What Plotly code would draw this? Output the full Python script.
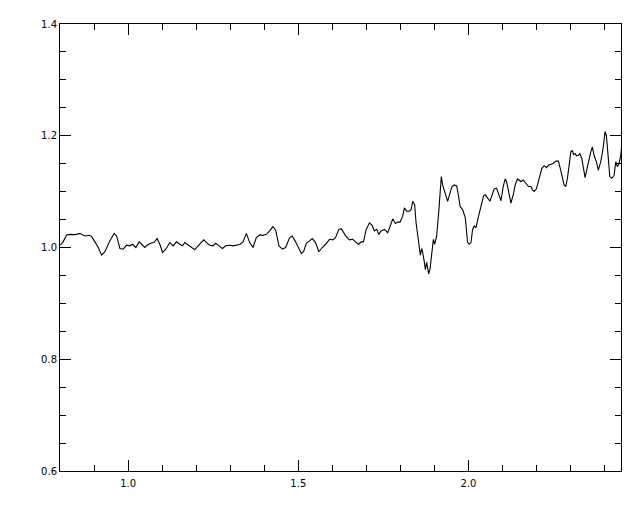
import plotly.graph_objects as go

wavelength = [
    0.8000, 0.8079, 0.8196, 0.8293, 0.8440, 0.8587, 0.8666, 0.8762, 0.8859, 0.8930,
    0.9026, 0.9123, 0.9223, 0.9320, 0.9466, 0.9592, 0.9663, 0.9760, 0.9856, 0.9956,
    1.0053, 1.0132, 1.0229, 1.0325, 1.0396, 1.0493, 1.0560, 1.0660, 1.0757, 1.0853,
    1.0933, 1.1012, 1.1109, 1.1226, 1.1323, 1.1422, 1.1519, 1.1598, 1.1666, 1.1762,
    1.1862, 1.1959, 1.2056, 1.2155, 1.2223,
    1.2302, 1.2399, 1.2496, 1.2575, 1.2672, 1.2771, 1.2868, 1.2985, 1.3082, 1.3182,
    1.3279, 1.3375, 1.3475, 1.3572, 1.3669, 1.3768, 1.3865, 1.3962, 1.4062, 1.4158,
    1.4255, 1.4334, 1.4431, 1.4531, 1.4628, 1.4745, 1.4824, 1.4921, 1.5018, 1.5088,
    1.5155, 1.5235, 1.5331, 1.5410, 1.5507, 1.5604, 1.5704, 1.5801, 1.5918, 1.6015,
    1.6094, 1.6191, 1.6261, 1.6337,
    1.6408, 1.6504, 1.6601, 1.6701, 1.6777, 1.6848, 1.6915, 1.6994, 1.7091, 1.7170,
    1.7238, 1.7305, 1.7364, 1.7434, 1.7531, 1.7628, 1.7727, 1.7774, 1.7853, 1.7921,
    1.7991, 1.8067, 1.8117, 1.8185, 1.8264, 1.8314, 1.8360, 1.8419, 1.8460, 1.8507,
    1.8557, 1.8586, 1.8624, 1.8654, 1.8704, 1.8733, 1.8771, 1.8801, 1.8830, 1.8871,
    1.8930, 1.8968, 1.9006, 1.9065, 1.9123, 1.9164, 1.9202, 1.9240, 1.9320, 1.9387,
    1.9457, 1.9516, 1.9584, 1.9651, 1.9710, 1.9751, 1.9827, 1.9906, 1.9974, 2.0023,
    2.0073, 2.0120, 2.0170, 2.0220, 2.0296, 2.0366, 2.0443,
    2.0493, 2.0560, 2.0630, 2.0689, 2.0756, 2.0824, 2.0883, 2.0953, 2.1020, 2.1079,
    2.1117, 2.1176, 2.1246, 2.1314, 2.1372, 2.1440, 2.1490, 2.1539, 2.1607, 2.1686,
    2.1762, 2.1833, 2.1880, 2.1930, 2.1997, 2.2076, 2.2155, 2.2223, 2.2290, 2.2349,
    2.2419, 2.2487, 2.2566, 2.2642, 2.2683, 2.2742, 2.2809, 2.2859, 2.2906, 2.2956,
    2.3006, 2.3053, 2.3082, 2.3132, 2.3170, 2.3229, 2.3270, 2.3328, 2.3366, 2.3425,
    2.3463, 2.3522, 2.3592, 2.3639, 2.3689, 2.3756, 2.3815, 2.3885, 2.3953, 2.4012,
    2.4050, 2.4108, 2.4150, 2.4208, 2.4276, 2.4326, 2.4373, 2.4422, 2.4472, 2.4501,
]

flux = [
    1.0041, 1.0088, 1.0225, 1.0235, 1.0230, 1.0253, 1.0225, 1.0207, 1.0218, 1.0195,
    1.0101, 1.0000, 0.9864, 0.9924, 1.0119, 1.0253, 1.0207, 0.9982, 0.9970, 1.0041,
    1.0030, 1.0058, 1.0000, 1.0101, 1.0058, 1.0000, 1.0041, 1.0076, 1.0088, 1.0159,
    1.0058, 0.9912, 0.9970, 1.0088, 1.0030, 1.0101, 1.0058, 1.0030, 1.0088, 1.0041,
    1.0000, 0.9959, 1.0030, 1.0101, 1.0136,
    1.0088, 1.0041, 1.0030, 1.0076, 1.0030, 0.9982, 1.0030, 1.0041, 1.0030, 1.0041,
    1.0053, 1.0101, 1.0253, 1.0088, 1.0000, 1.0177, 1.0225, 1.0218, 1.0235, 1.0296,
    1.0372, 1.0313, 1.0030, 0.9970, 1.0000, 1.0177, 1.0207, 1.0101, 0.9982, 0.9894,
    0.9924, 1.0076, 1.0119, 1.0159, 1.0088, 0.9924, 1.0000, 1.0058, 1.0147, 1.0136,
    1.0177, 1.0324, 1.0336, 1.0265,
    1.0195, 1.0136, 1.0147, 1.0088, 1.0058, 1.0101, 1.0101, 1.0324, 1.0442, 1.0395,
    1.0296, 1.0324, 1.0235, 1.0296, 1.0324, 1.0265, 1.0442, 1.0513, 1.0430, 1.0455,
    1.0455, 1.0561, 1.0708, 1.0650, 1.0650, 1.0678, 1.0827, 1.0766, 1.0442, 1.0207,
    0.9970, 0.9864, 0.9982, 0.9912, 0.9735, 0.9605, 0.9735, 0.9628, 0.9527, 0.9616,
    0.9912, 1.0147, 1.0058, 1.0207, 1.0619, 1.0915, 1.1269, 1.1120, 1.0973, 1.0827,
    1.0973, 1.1092, 1.1120, 1.1103, 1.0915, 1.0738, 1.0678, 1.0531, 1.0088, 1.0058,
    1.0088, 1.0324, 1.0384, 1.0354, 1.0561, 1.0738, 1.0926,
    1.0943, 1.0885, 1.0827, 1.0933, 1.1050, 1.1062, 1.0973, 1.0837, 1.1092, 1.1227,
    1.1181, 1.0973, 1.0796, 1.0943, 1.1120, 1.1227, 1.1209, 1.1181, 1.1209, 1.1150,
    1.1092, 1.1092, 1.1032, 1.1004, 1.1050, 1.1239, 1.1416, 1.1464, 1.1428, 1.1474,
    1.1487, 1.1504, 1.1545, 1.1545, 1.1446, 1.1269, 1.1120, 1.1092, 1.1239, 1.1474,
    1.1712, 1.1740, 1.1664, 1.1681, 1.1641, 1.1651, 1.1681, 1.1593, 1.1474, 1.1251,
    1.1357, 1.1535, 1.1712, 1.1800, 1.1651, 1.1535, 1.1386, 1.1535, 1.1770, 1.2076,
    1.2005, 1.1593, 1.1269, 1.1239, 1.1287, 1.1535, 1.1446, 1.1504, 1.1651, 1.1828,
]

x_range = [0.8, 2.448]
y_range = [0.6, 1.4]

fig = go.Figure()
fig.add_trace(go.Scatter(
    x=wavelength, y=flux, mode="lines",
    line=dict(color="black", width=1.1),
    showlegend=False, hoverinfo="skip",
))

axis_common = dict(
    showgrid=False, zeroline=False,
    showline=True, linecolor="black", linewidth=1,
    mirror="ticks", ticks="inside", ticklen=11, tickwidth=1, tickcolor="black",
    tickfont=dict(family="DejaVu Sans", size=10, color="black"),
    tickformat=".1f",
)

# The page body has an 8px margin; size the figure so it fits the window without scrolling.
fig.update_layout(
    width=624, height=496,
    margin=dict(l=52, r=10, t=11, b=33),
    paper_bgcolor="white", plot_bgcolor="white",
    xaxis=dict(range=x_range, tick0=0, dtick=0.5, ticklabelstandoff=3,
               minor=dict(dtick=0.1, ticks="inside", ticklen=6, tickcolor="black", tickwidth=1),
               **axis_common),
    yaxis=dict(range=y_range, tick0=0, dtick=0.2,
               minor=dict(dtick=0.05, ticks="inside", ticklen=6, tickcolor="black", tickwidth=1),
               **axis_common),
)

fig.write_html("out.html")
